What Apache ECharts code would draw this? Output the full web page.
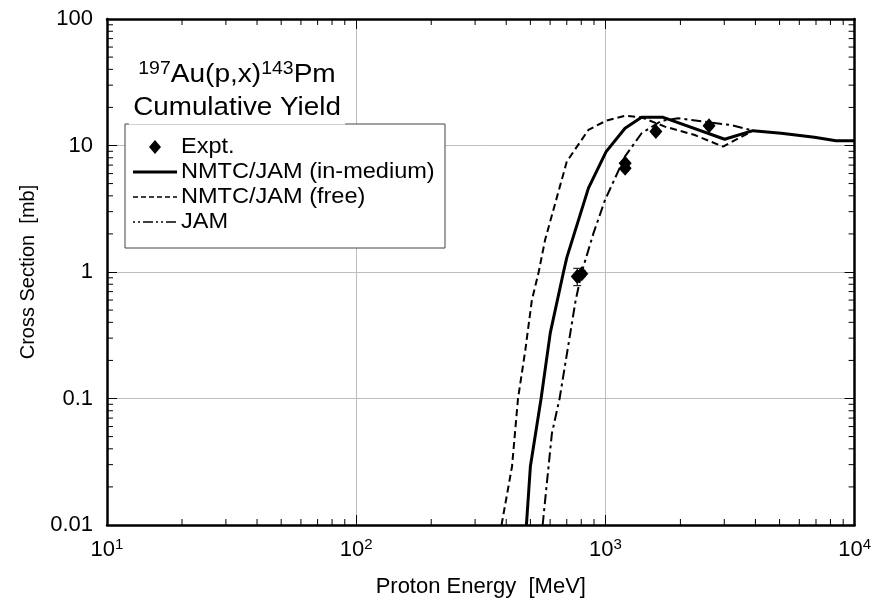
<!DOCTYPE html>
<html>
<head>
<meta charset="utf-8">
<script src="https://cdn.jsdelivr.net/npm/echarts@6/dist/echarts.min.js"></script>
<style>
  html, body { margin: 0; padding: 0; background: #fff; }
  #chart { width: 874px; height: 604px; }
</style>
</head>
<body>
<div id="chart"></div>
<script>
// proton energy [MeV] / cross section [mb]
const inMediumE = [482, 500, 552, 601, 679, 700, 855, 1007, 1199, 1397, 1706, 3010, 3908, 5075, 6895, 8420, 10000]
const inMediumS = [0.01, 0.029, 0.1, 0.33, 1.0, 1.3, 4.6, 8.95, 13.7, 16.7, 16.7, 11.2, 13.1, 12.5, 11.6, 10.9, 10.9]

const freeE = [383, 422, 446, 477, 507, 540, 573, 700, 855, 1007, 1199, 1397, 1733, 2284, 2965, 3510, 3908]
const freeS = [0.01, 0.029, 0.1, 0.24, 0.6, 1.0, 1.8, 7.46, 13.3, 15.7, 17.2, 16.7, 14.1, 12.1, 9.8, 11.7, 13.1]

const jamE = [560, 610, 655, 760, 804, 896, 997, 1199, 1397, 1679, 1959, 3202, 3908]
const jamS = [0.01, 0.053, 0.1, 0.6, 1.0, 2.03, 3.72, 8.2, 12.5, 15.7, 16.4, 14.5, 13.1]

const exptE = [771, 804, 1200, 1200, 1594, 2606]
const exptS = [0.92, 0.97, 7.25, 6.6, 12.9, 14.3]
const exptLo = [0.78, 0.92, 6.9, 6.3, 12.3, 13.6]
const exptHi = [1.07, 1.02, 7.6, 6.9, 13.5, 15.0]

const xTickExp = ['1', '2', '3', '4']
const yTickLabels = ['0.01', '0.1', '1', '10', '100']
const legendNames = ['Expt.', 'NMTC/JAM (in-medium)', 'NMTC/JAM (free)', 'JAM']

const zip = (a, b) => a.map((v, i) => [v, b[i]])

// minor tick positions 2..9 in every decade
const xMinor = []
for (let d = 10; d < 10000; d *= 10) for (let k = 2; k <= 9; k++) xMinor.push([d * k, 1])
const yMinor = []
for (let d = 0.01; d < 99; d *= 10) for (let k = 2; k <= 9; k++) yMinor.push([100, d * k])

const font = 'Liberation Sans, Arial, sans-serif'
const frame = { show: true, lineStyle: { color: '#000', width: 2.5 } }
const solidStyle = { color: '#000', width: 3 }
const freeStyle = { color: '#000', width: 2, type: [7, 4] }
const jamStyle = { color: '#000', width: 2, type: [10, 4, 3, 4] }

// hand-drawn legend box (the built-in one can't show dash patterns without markers)
const lgX = 125, lgY = 124, lgRowY = [147, 172, 197, 222]
const legendItems = [
  { type: 'rect', z: 100, shape: { x: lgX, y: lgY, width: 320, height: 124 }, style: { fill: '#fff', stroke: '#444', lineWidth: 1 } },
  { type: 'polygon', z: 101, shape: { points: [[155, lgRowY[0] - 7], [161, lgRowY[0]], [155, lgRowY[0] + 7], [149, lgRowY[0]]] }, style: { fill: '#000' } },
  { type: 'line', z: 101, shape: { x1: 133, y1: lgRowY[1], x2: 177, y2: lgRowY[1] }, style: { stroke: '#000', lineWidth: solidStyle.width } },
  { type: 'line', z: 101, shape: { x1: 133, y1: lgRowY[2], x2: 177, y2: lgRowY[2] }, style: { stroke: '#000', lineWidth: 1.5, lineDash: [5, 3] } },
  { type: 'line', z: 101, shape: { x1: 133, y1: lgRowY[3], x2: 177, y2: lgRowY[3] }, style: { stroke: '#000', lineWidth: 1.5, lineDash: [2, 3, 2, 3, 10, 3] } }
].concat(legendNames.map((n, i) => ({
  type: 'text', z: 101, x: 181, y: lgRowY[i], scaleX: 1.07,
  style: { text: n, fontSize: 22, fontFamily: font, fill: '#000', verticalAlign: 'middle' }
})))

let mychart = echarts.init(document.getElementById('chart'))
mychart.setOption({
  backgroundColor: '#fff',
  animation: false,
  textStyle: { fontFamily: font, color: '#000' },
  grid: { left: 107, right: 17, top: 19, bottom: 79 },
  xAxis: [
    {
      type: 'log', logBase: 10, min: 10, max: 10000,
      axisLine: frame,
      axisTick: { inside: true, length: 10, lineStyle: { color: '#000', width: 1 } },
      splitLine: { show: true, lineStyle: { color: '#bdbdbd', width: 1 } },
      axisLabel: {
        margin: 12,
        formatter: (v, i) => '{b|10}{s|' + xTickExp[i] + '}',
        rich: {
          b: { fontSize: 22, fontFamily: font, color: '#000', lineHeight: 26 },
          s: { fontSize: 15, fontFamily: font, color: '#000', verticalAlign: 'top', lineHeight: 14 }
        }
      },
      name: 'Proton Energy  [MeV]',
      nameLocation: 'middle',
      nameGap: 51,
      nameTextStyle: { fontSize: 22, fontFamily: font, color: '#000' }
    },
    {
      type: 'log', logBase: 10, min: 10, max: 10000, position: 'top',
      axisLine: frame,
      axisTick: { inside: true, length: 10, lineStyle: { color: '#000', width: 1 } },
      splitLine: { show: false },
      axisLabel: { show: false }
    }
  ],
  yAxis: [
    {
      type: 'log', logBase: 10, min: 0.01, max: 100,
      axisLine: frame,
      axisTick: { inside: true, length: 10, lineStyle: { color: '#000', width: 1 } },
      splitLine: { show: true, lineStyle: { color: '#bdbdbd', width: 1 } },
      axisLabel: {
        margin: 14, fontSize: 22, fontFamily: font, color: '#000',
        formatter: (v, i) => yTickLabels[i]
      },
      name: 'Cross Section  [mb]',
      nameLocation: 'middle',
      nameGap: 69,
      nameTextStyle: { fontSize: 20, fontFamily: font, color: '#000' }
    },
    {
      type: 'log', logBase: 10, min: 0.01, max: 100, position: 'right',
      axisLine: frame,
      axisTick: { inside: true, length: 10, lineStyle: { color: '#000', width: 1 } },
      splitLine: { show: false },
      axisLabel: { show: false }
    }
  ],
  graphic: legendItems.concat([
    {
      type: 'text', z: 110, x: 237, y: 75, scaleX: 1.08,
      style: {
        text: '{s|197}{m|Au(p,x)}{s|143}{m|Pm}',
        align: 'center', verticalAlign: 'middle',
        rich: {
          m: { fontSize: 26, fontFamily: font, fill: '#000', lineHeight: 30 },
          s: { fontSize: 18, fontFamily: font, fill: '#000', verticalAlign: 'top', lineHeight: 17 }
        }
      }
    },
    {
      type: 'text', z: 110, x: 237, y: 108, scaleX: 1.07,
      style: {
        text: 'Cumulative Yield',
        align: 'center', verticalAlign: 'middle',
        fontSize: 26, fontFamily: font, fill: '#000',
        backgroundColor: '#fff', padding: [2, 4, 5, 4]
      }
    }
  ]),
  series: [
    {
      name: legendNames[1], type: 'line', data: zip(inMediumE, inMediumS),
      symbol: 'none', lineStyle: solidStyle, z: 3
    },
    {
      name: legendNames[2], type: 'line', data: zip(freeE, freeS),
      symbol: 'none', lineStyle: freeStyle, z: 3
    },
    {
      name: legendNames[3], type: 'line', data: zip(jamE, jamS),
      symbol: 'none', lineStyle: jamStyle, z: 3
    },
    {
      name: legendNames[0], type: 'scatter', data: zip(exptE, exptS),
      symbol: 'diamond', symbolSize: [13, 15],
      itemStyle: { color: '#000', opacity: 1 }, z: 5
    },
    {
      // error bars
      type: 'custom', silent: true, z: 4,
      data: exptE.map((e, i) => [e, exptLo[i], exptHi[i]]),
      renderItem: (params, api) => {
        const lo = api.coord([api.value(0), api.value(1)])
        const hi = api.coord([api.value(0), api.value(2)])
        const st = { stroke: '#000', lineWidth: 1 }
        return {
          type: 'group', children: [
            { type: 'line', shape: { x1: lo[0], y1: lo[1], x2: hi[0], y2: hi[1] }, style: st },
            { type: 'line', shape: { x1: lo[0] - 4, y1: lo[1], x2: lo[0] + 4, y2: lo[1] }, style: st },
            { type: 'line', shape: { x1: hi[0] - 4, y1: hi[1], x2: hi[0] + 4, y2: hi[1] }, style: st }
          ]
        }
      }
    },
    {
      // minor ticks on bottom and top
      type: 'custom', silent: true, clip: false, z: 2,
      data: xMinor,
      renderItem: (params, api) => {
        const p = api.coord([api.value(0), 1])
        const cs = params.coordSys
        const st = { stroke: '#000', lineWidth: 1 }
        return {
          type: 'group', children: [
            { type: 'line', shape: { x1: p[0], y1: cs.y + cs.height, x2: p[0], y2: cs.y + cs.height - 6 }, style: st },
            { type: 'line', shape: { x1: p[0], y1: cs.y, x2: p[0], y2: cs.y + 6 }, style: st }
          ]
        }
      }
    },
    {
      // minor ticks on left and right
      type: 'custom', silent: true, clip: false, z: 2,
      data: yMinor,
      renderItem: (params, api) => {
        const p = api.coord([100, api.value(1)])
        const cs = params.coordSys
        const st = { stroke: '#000', lineWidth: 1 }
        return {
          type: 'group', children: [
            { type: 'line', shape: { x1: cs.x, y1: p[1], x2: cs.x + 6, y2: p[1] }, style: st },
            { type: 'line', shape: { x1: cs.x + cs.width, y1: p[1], x2: cs.x + cs.width - 6, y2: p[1] }, style: st }
          ]
        }
      }
    }
  ]
})
</script>
</body>
</html>
